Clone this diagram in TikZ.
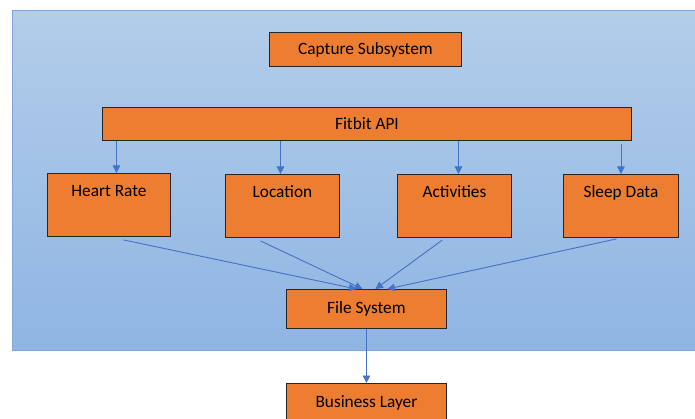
\documentclass[tikz,border=0pt]{standalone}
\usepackage{fontspec}
\setmainfont{Carlito}
\usetikzlibrary{arrows.meta,calc}
\definecolor{boxfill}{HTML}{ED7D31}
\definecolor{boxline}{HTML}{262626}
\definecolor{arrcol}{HTML}{4472C4}
\definecolor{bgtop}{HTML}{B3CDEA}
\definecolor{bgbot}{HTML}{8FB5E3}
\definecolor{bgline}{HTML}{7EA8DA}
\tikzset{
  box/.style={draw=boxline, fill=boxfill, line width=0.9pt, inner sep=0pt,
    font=\fontsize{17.3}{20}\selectfont, anchor=north west},
  databox/.style={box, text height=23pt, text depth=40pt},
  arr/.style={draw=arrcol, line width=0.9pt, -{Triangle[width=7.5pt,length=7.5pt]}},
}
\begin{document}
\begin{tikzpicture}[x=1pt,y=-1pt]
\useasboundingbox (0,0) rectangle (695,419);
\clip (0,0) rectangle (695,419);
\shade[top color=bgtop, bottom color=bgbot, draw=bgline, line width=0.9pt]
  (12.5,10.5) rectangle (705,350);
\node[box, minimum width=192pt, minimum height=34pt] (cap) at (269,32) {Capture Subsystem};
\node[box, minimum width=529pt, minimum height=33pt] (fb) at (102,107) {Fitbit API};
\node[databox, minimum width=123pt] (hr) at (47,173) {Heart Rate};
\node[databox, minimum width=114pt] (loc) at (225,174) {Location};
\node[databox, minimum width=114pt] (act) at (397,174) {Activities};
\node[databox, minimum width=115pt] (sl) at (563,174) {Sleep Data};
\node[box, minimum width=160pt, minimum height=39pt] (fs) at (286,289) {File System};
\node[box, minimum width=160pt, minimum height=39pt] (bl) at (286,383) {Business Layer};
% Fitbit API to data boxes
\draw[arr] ([xshift=7.5pt]hr.north |- fb.south) -- ([xshift=7.5pt]hr.north);
\draw[arr] ([xshift=-2pt]loc.north |- fb.south) -- ([xshift=-2pt]loc.north);
\draw[arr] ([xshift=4pt]act.north |- fb.south) -- ([xshift=4pt]act.north);
\draw[arr] ([yshift=-3pt]sl.north |- fb.south) -- (sl.north);
% data boxes to File System
\draw[arr] ([xshift=14.5pt,yshift=-3pt]hr.south) -- ([xshift=-10pt]fs.north);
\draw[arr] ([xshift=-22pt,yshift=-3pt]loc.south) -- ([xshift=-4pt]fs.north);
\draw[arr] ([xshift=-12pt,yshift=-2pt]act.south) -- ([xshift=9pt]fs.north);
\draw[arr] ([xshift=-4.5pt,yshift=-1pt]sl.south) -- ([xshift=21pt]fs.north);
% File System to Business Layer
\draw[arr] (fs.south) -- (bl.north);
\end{tikzpicture}
\end{document}
